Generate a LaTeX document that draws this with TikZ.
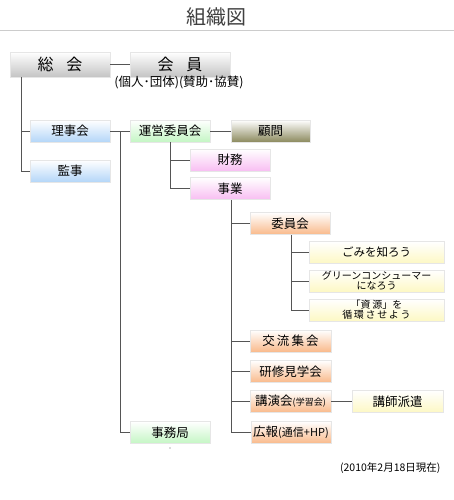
\documentclass[tikz,border=0pt]{standalone}
\usepackage{fontspec}
\setmainfont{Noto Sans CJK JP}
\definecolor{boxline}{HTML}{E6E6E6}
\definecolor{cgray}{HTML}{C4C4C4}
\definecolor{cblue}{HTML}{B4D6F8}
\definecolor{cgreen}{HTML}{C4F6C4}
\definecolor{colive}{HTML}{8C8A5E}
\definecolor{cpink}{HTML}{F8BEF2}
\definecolor{corange}{HTML}{F9B98A}
\definecolor{cyellow}{HTML}{FDF8C4}
\definecolor{conn}{HTML}{555555}
\tikzset{
  orgbox/.style={rectangle, draw=boxline, line width=0.8pt, inner sep=0pt,
    minimum width=80pt, minimum height=22pt, text=black,
    top color=white, middle color=white, font=\fontsize{12.5}{14}\selectfont},
  graybox/.style={orgbox, bottom color=cgray, minimum width=100pt, minimum height=25pt,
    font=\fontsize{16}{18}\selectfont},
  bluebox/.style={orgbox, bottom color=cblue},
  greenbox/.style={orgbox, bottom color=cgreen},
  olivebox/.style={orgbox, bottom color=colive, minimum width=79pt},
  pinkbox/.style={orgbox, bottom color=cpink},
  orangebox/.style={orgbox, bottom color=corange, minimum width=81pt},
  yellowbox/.style={orgbox, bottom color=cyellow, minimum width=135pt,
    font=\fontsize{10}{9.8}\selectfont, align=center},
  connector/.style={draw=conn, line width=0.9pt},
}
\begin{document}
\begin{tikzpicture}[x=1pt,y=-1pt]
\useasboundingbox (0,0) rectangle (454,500);
\fill[white] (0,0) rectangle (454,500);
% title and rule
\node[text=black!75, font=\fontsize{20}{22}\selectfont] (title) at (216,17) {組織図};
\coordinate (ruleL) at (0,30);
\coordinate (ruleR) at (454,30);
\draw[black!20, line width=0.8pt] (ruleL) -- (ruleR);
% boxes
\node[graybox] (souka) at (60,64.5) {総\hspace{0.8em}会};
\node[graybox] (kaiin) at (180,64.5) {会\hspace{0.8em}員};
\node[font=\fontsize{12.5}{13}\selectfont] (kaiinlbl) at (179,82.5) {(個人･団体)(賛助･協賛)};
\node[bluebox] (riji) at (70,131) {理事会};
\node[bluebox] (kanji) at (70,171) {監事};
\node[greenbox] (unei) at (170,131) {運営委員会};
\node[olivebox] (komon) at (270.5,131) {顧問};
\node[pinkbox] (zaimu) at (230,160) {財務};
\node[pinkbox] (jigyo) at (230,188.5) {事業};
\node[orangebox, minimum width=80pt] (iin) at (290,223.5) {委員会};
\node[yellowbox, font=\fontsize{11.5}{12}\selectfont] (gomi) at (376.5,252.5) {ごみを知ろう};
\node[yellowbox] (green) at (376.5,281) {グリーンコンシューマー\\になろう};
\node[yellowbox] (shigen) at (376.5,310) {「資\,源」を\\循\,環\,さ\,せ\,よ\,う};
\node[orangebox] (kouryu) at (290.5,341) {交\,流\,集\,会};
\node[orangebox] (kenshu) at (290.5,371.5) {研修見学会};
\node[orangebox] (kouen) at (290.5,401.5) {講演会{\fontsize{9}{10}\selectfont (学習会)}};
\node[yellowbox, minimum width=91pt, font=\fontsize{12.5}{14}\selectfont] (koushi) at (397.5,401.5) {講師派遣};
\node[orangebox, minimum width=80pt] (kouhou) at (291,432.5) {広報{\fontsize{11}{12}\selectfont (通信+HP)}};
\node[greenbox] (jimu) at (170,432.5) {事務局};
\fill[black!60] (170,448) circle (0.6pt);
% trunk coordinates
\coordinate (x1) at (21,0);
\coordinate (x2) at (120,0);
\coordinate (x3) at (170,0);
\coordinate (x4) at (231,0);
\coordinate (x5) at (291,0);
% connectors
\draw[connector] (souka.east) -- (kaiin.west);
\draw[connector] (x1 |- souka.south) |- (kanji.west);
\draw[connector] (x1 |- riji.west) -- (riji.west);
\draw[connector] (riji.east) -- (unei.west);
\draw[connector] (x2 |- unei.west) |- (jimu.west);
\draw[connector] (unei.east) -- (komon.west);
\draw[connector] (x3 |- unei.south) |- (jigyo.west);
\draw[connector] (x3 |- zaimu.west) -- (zaimu.west);
\draw[connector] (x4 |- jigyo.south) |- (kouhou.west);
\draw[connector] (x4 |- iin.west) -- (iin.west);
\draw[connector] (x4 |- kouryu.west) -- (kouryu.west);
\draw[connector] (x4 |- kenshu.west) -- (kenshu.west);
\draw[connector] (x4 |- kouen.west) -- (kouen.west);
\draw[connector] (x5 |- iin.south) |- (shigen.west);
\draw[connector] (x5 |- gomi.west) -- (gomi.west);
\draw[connector] (x5 |- green.west) -- (green.west);
\draw[connector] (kouen.east) -- (koushi.west);
% footnote
\node[anchor=east, font=\fontsize{10.5}{12}\selectfont] (note) at (444,468) {(2010年2月18日現在)};
\end{tikzpicture}
\end{document}
